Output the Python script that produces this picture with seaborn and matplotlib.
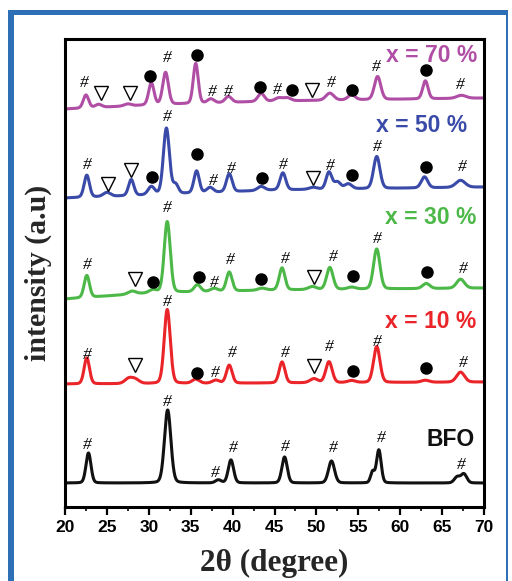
import numpy as np
import pandas as pd
import seaborn as sns
import matplotlib
matplotlib.use("Agg")
import matplotlib.pyplot as plt
from matplotlib.patches import Rectangle
from matplotlib.ticker import MultipleLocator

# ---------------- data ----------------
samples = ["BFO", "x = 10 %", "x = 30 %", "x = 50 %", "x = 70 %"]
colors = ["#111111", "#ea2429", "#4cb848", "#3a4aa8", "#b04ea5"]

# baselines (2theta anchors, intensity)
bfo_base_x = [20, 70];            bfo_base_y = [24, 24]
r10_base_x = [20, 45, 70];        r10_base_y = [123, 124, 125]
g30_base_x = [20, 30, 45, 70];    g30_base_y = [208, 214, 217, 219]
b50_base_x = [20, 30, 45, 70];    b50_base_y = [309, 312, 317, 320]
m70_base_x = [20, 30, 45, 70];    m70_base_y = [398, 402, 406, 409]

# peaks: position, height above baseline, fwhm
bfo_pos = [22.8, 32.25, 38.3, 39.8, 46.2, 51.8, 56.7, 57.45, 66.8, 67.6]
bfo_amp = [30, 73, 3, 23, 26, 22, 11, 33, 6, 9]
bfo_fw  = [0.7, 0.9, 0.8, 0.75, 0.75, 0.85, 0.55, 0.65, 0.8, 0.8]

r10_pos = [22.6, 27.6, 28.4, 32.2, 35.6, 38.0, 39.6, 45.9, 49.7, 51.5, 54.2, 57.2, 63.0, 67.2]
r10_amp = [26, 5, 4, 74, 4, 3, 18, 21, 4, 21, 2, 36, 2, 10]
r10_fw  = [0.75, 1.1, 1.1, 0.85, 1.0, 1.0, 0.8, 0.8, 1.1, 0.9, 1.1, 0.9, 1.1, 1.1]

g30_pos = [22.6, 28.0, 30.5, 32.2, 35.8, 37.8, 39.6, 43.5, 45.9, 49.5, 51.6, 54.2, 57.2, 63.1, 67.2]
g30_amp = [22, 3, 3, 71, 7, 3, 19, 2, 22, 3, 22, 2, 40, 5, 9]
g30_fw  = [0.75, 1.1, 1.0, 0.85, 0.9, 1.0, 0.8, 1.1, 0.8, 1.1, 0.9, 1.1, 0.9, 1.0, 1.1]

b50_pos = [22.6, 25.0, 27.9, 30.3, 32.1, 33.2, 35.7, 37.3, 39.6, 43.4, 46.0, 49.6,
           51.5, 52.5, 53.8, 57.2, 62.9, 67.2]
b50_amp = [22, 4, 16, 8, 66, 9, 22, 5, 18, 4, 17, 2, 17, 7, 5, 32, 11, 7]
b50_fw  = [0.75, 1.0, 0.75, 0.9, 0.85, 0.75, 0.75, 0.9, 0.8, 1.0, 0.8, 1.1,
           0.8, 0.9, 1.0, 0.9, 0.9, 1.3]

m70_pos = [22.5, 24.0, 27.5, 30.3, 32.0, 35.6, 37.4, 39.5, 43.4, 45.5, 46.5, 51.6, 54.2, 57.3, 63.0, 67.3]
m70_amp = [13, 3, 2, 22, 32, 40, 4, 6, 8, 3, 3, 7, 5, 23, 18, 3]
m70_fw  = [0.75, 0.9, 1.0, 0.75, 0.8, 0.7, 0.9, 0.9, 0.9, 1.0, 1.0, 1.1, 1.0, 0.9, 0.75, 1.3]

# phase marks: (2theta, intensity position, symbol)
bfo_marks = [(22.63, 62, "#"), (32.17, 105, "#"), (37.90, 34, "#"), (40.05, 59, "#"),
             (46.25, 60, "#"), (51.98, 59, "#"), (57.71, 69, "#"), (67.26, 42, "#")]
r10_marks = [(22.63, 152, "#"), (28.35, 142, "v"), (32.17, 205, "#"), (35.75, 134, "o"),
             (37.90, 134, "#"), (39.93, 154, "#"), (46.25, 154, "#"), (49.71, 141, "v"),
             (51.50, 160, "#"), (54.37, 136, "o"), (57.23, 165, "#"), (63.08, 139, "o"),
             (67.49, 144, "#")]
g30_marks = [(22.63, 242, "#"), (28.35, 228, "v"), (30.50, 225, "o"), (32.17, 299, "#"),
             (35.99, 230, "o"), (37.78, 224, "#"), (39.69, 247, "#"), (43.39, 228, "o"),
             (46.25, 248, "#"), (49.71, 230, "v"), (51.98, 250, "#"), (54.37, 231, "o"),
             (57.23, 268, "#"), (63.20, 235, "o"), (67.49, 238, "#")]
b50_marks = [(22.63, 342, "#"), (25.13, 323, "v"), (27.88, 337, "v"), (30.38, 330, "o"),
             (32.17, 390, "#"), (35.75, 353, "o"), (37.66, 326, "#"), (39.81, 338, "#"),
             (43.51, 329, "o"), (46.01, 342, "#"), (49.59, 329, "v"), (51.62, 341, "#"),
             (54.25, 332, "o"), (57.23, 360, "#"), (63.08, 340, "o"), (67.37, 340, "#")]
m70_marks = [(22.27, 424, "#"), (24.30, 414, "v"), (27.76, 414, "v"), (30.14, 431, "o"),
             (32.17, 449, "#"), (35.75, 452, "o"), (37.54, 415, "#"), (39.45, 415, "#"),
             (43.27, 420, "o"), (45.30, 417, "#"), (47.09, 417, "o"), (49.47, 417, "v"),
             (51.74, 424, "#"), (54.25, 417, "o"), (57.11, 440, "#"), (63.08, 437, "o"),
             (67.14, 422, "#")]

label_x = [66.06, 63.68, 63.68, 62.6, 63.79]
label_y = [68, 185, 290, 382, 452]

xticks = [20, 25, 30, 35, 40, 45, 50, 55, 60, 65, 70]

# ---------------- build profiles ----------------
series = [
    (bfo_base_x, bfo_base_y, bfo_pos, bfo_amp, bfo_fw, bfo_marks),
    (r10_base_x, r10_base_y, r10_pos, r10_amp, r10_fw, r10_marks),
    (g30_base_x, g30_base_y, g30_pos, g30_amp, g30_fw, g30_marks),
    (b50_base_x, b50_base_y, b50_pos, b50_amp, b50_fw, b50_marks),
    (m70_base_x, m70_base_y, m70_pos, m70_amp, m70_fw, m70_marks),
]

tt = np.linspace(20, 70, 2501)

def pattern(bx, by, pos, amp, fw):
    y = np.interp(tt, bx, by).astype(float)
    for p, a, w in zip(pos, amp, fw):
        d2 = 4.0 * (tt - p) ** 2 / w ** 2
        y += a * (0.85 * np.exp(-np.log(2) * d2) + 0.15 / (1 + d2))
    return y

frames = []
for name, (bx, by, pos, amp, fw, _) in zip(samples, series):
    frames.append(pd.DataFrame({"two_theta": tt,
                                "intensity": pattern(bx, by, pos, amp, fw),
                                "sample": name}))
df = pd.concat(frames, ignore_index=True)

# ---------------- plot ----------------
sns.set_theme(style="ticks")
plt.rcParams["font.family"] = ["Liberation Sans", "DejaVu Sans"]

fig = plt.figure(figsize=(5.12, 5.81), dpi=100)
ax = fig.add_axes([65 / 512, 74 / 581, 419 / 512, 468 / 581])

sns.lineplot(data=df, x="two_theta", y="intensity", hue="sample",
             palette=dict(zip(samples, colors)), estimator=None, sort=False,
             legend=False, linewidth=2.2, ax=ax)

for (bx, by, pos, amp, fw, marks) in series:
    for (mx, my, sym) in marks:
        if sym == "#":
            ax.text(mx, my, "#", ha="center", va="center", fontsize=12.5,
                    style="italic", family=["Liberation Serif", "DejaVu Serif"],
                    color="black")
        elif sym == "o":
            ax.plot(mx, my, "o", ms=8, color="black", mec="black")
        else:
            ax.plot(mx, my, "v", ms=10, mfc="white", mec="black", mew=1.0)

for name, c, lx, ly in zip(samples, colors, label_x, label_y):
    ax.text(lx, ly, name, color=c, fontsize=16.5, fontweight="bold",
            ha="center", va="center")

ax.set_xlim(20, 70)
ax.set_ylim(0, 468)
ax.set_xticks(xticks)
ax.xaxis.set_minor_locator(MultipleLocator(2.5))
ax.set_yticks([])
ax.tick_params(axis="x", which="major", direction="out", length=6, width=1.6,
               labelsize=12.5, pad=3, colors="black")
ax.tick_params(axis="x", which="minor", direction="out", length=3, width=1.4)
for lab in ax.get_xticklabels():
    lab.set_fontweight("bold")
for sp in ax.spines.values():
    sp.set_linewidth(2.2)
    sp.set_color("black")
    sp.set_visible(True)

ax.set_xlabel("2θ (degree)", fontsize=22.5, fontweight="bold",
              family=["Liberation Serif", "DejaVu Serif"], va="center")
ax.xaxis.set_label_coords(0.5, -0.12)
ax.set_ylabel("intensity (a.u)", fontsize=21.5, fontweight="bold",
              family=["Liberation Serif", "DejaVu Serif"], va="center")
ax.yaxis.set_label_coords(-0.064, 0.5)

# blue frame around the figure
frame_c = "#2e70b6"
fig.add_artist(Rectangle((8 / 512, 0), 6 / 512, 571 / 581, transform=fig.transFigure,
                         color=frame_c, lw=0))
fig.add_artist(Rectangle((8 / 512, 566 / 581), 500 / 512, 5 / 581, transform=fig.transFigure,
                         color=frame_c, lw=0))
fig.add_artist(Rectangle((506 / 512, 0), 2 / 512, 571 / 581, transform=fig.transFigure,
                         color=frame_c, lw=0))

fig.savefig("out.png", dpi=100)
